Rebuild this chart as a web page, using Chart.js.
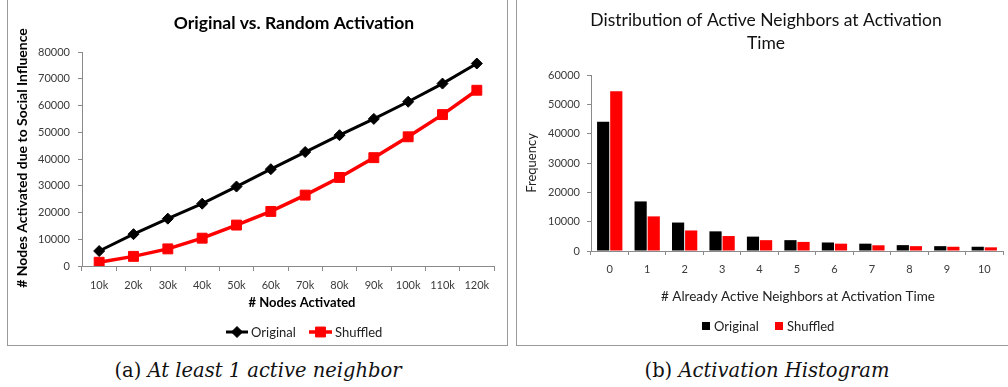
<!DOCTYPE html>
<html>
<head>
<meta charset="utf-8">
<script src="https://cdn.jsdelivr.net/npm/chart.js@4.4.1/dist/chart.umd.min.js"></script>
<style>
  html, body { margin: 0; padding: 0; background: #fff; }
  body { position: relative; width: 1008px; height: 387px; overflow: hidden; }
  .frame { position: absolute; border: 1px solid #9a9a9a; box-sizing: border-box; }
  #frameA { left: 7px; top: -4px; width: 501px; height: 350px; }
  #frameB { left: 516px; top: -4px; width: 510px; height: 350px; }
  .wrap { position: absolute; top: 0; height: 350px; }
  #wrapA { left: 0; width: 510px; }
  #wrapB { left: 510px; width: 498px; }
  .cap { position: absolute; top: 359px; font-family: "DejaVu Serif", serif; font-size: 19.5px; color: #111; white-space: nowrap; transform: translateX(-50%); }
  .cap i { font-style: italic; }
  #capA { left: 258px; }
  #capB { left: 767px; }
</style>
</head>
<body>
<div class="frame" id="frameA"></div>
<div class="frame" id="frameB"></div>
<div class="wrap" id="wrapA"><canvas id="chartA" width="510" height="350"></canvas></div>
<div class="wrap" id="wrapB"><canvas id="chartB" width="498" height="350"></canvas></div>
<div class="cap" id="capA">(a) <i>At least 1 active neighbor</i></div>
<div class="cap" id="capB">(b) <i>Activation Histogram</i></div>

<script>
// ---- data: activation counts ----
const nodeSteps = ['10k', '20k', '30k', '40k', '50k', '60k', '70k', '80k', '90k', '100k', '110k', '120k'];
const socialOriginal = [5600, 11900, 17700, 23300, 29700, 36200, 42600, 48900, 55000, 61400, 68200, 75700];
const socialShuffled = [1400, 3600, 6400, 10400, 15300, 20400, 26500, 33100, 40500, 48300, 56600, 65700];

// ---- data: neighbor histogram ----
const neighborCounts = ['0', '1', '2', '3', '4', '5', '6', '7', '8', '9', '10'];
const histOriginal = [44100, 16900, 9700, 6700, 4900, 3700, 2900, 2500, 2000, 1650, 1450];
const histShuffled = [54500, 11800, 7000, 5100, 3700, 3100, 2500, 1950, 1650, 1450, 1250];

const yTicksA = [0, 10000, 20000, 30000, 40000, 50000, 60000, 70000, 80000];
const yTicksB = [0, 10000, 20000, 30000, 40000, 50000, 60000];

const FONT = 'Lato, "Open Sans", sans-serif';
const AXIS_GREY = '#8a8a8a';
const TICK_TEXT = '#3a3a3a';

// Free text drawn on the canvas (titles, axis titles)
const textPlugin = {
  id: 'freeText',
  afterDraw(chart, args, opts) {
    const ctx = chart.ctx;
    for (const t of opts.items || []) {
      ctx.save();
      ctx.font = t.font;
      ctx.fillStyle = t.color || '#000';
      ctx.textAlign = 'center';
      ctx.textBaseline = 'middle';
      ctx.translate(t.x, t.y);
      if (t.rotate) ctx.rotate(t.rotate);
      ctx.fillText(t.text, 0, 0);
      ctx.restore();
    }
  }
};

// Legend drawn from the datasets' own styles
const legendPlugin = {
  id: 'swatchLegend',
  afterDraw(chart, args, opts) {
    const ctx = chart.ctx;
    const y = opts.y;
    chart.data.datasets.forEach((ds, i) => {
      const it = opts.items[i];
      ctx.save();
      if (opts.kind === 'line') {
        ctx.strokeStyle = ds.borderColor;
        ctx.lineWidth = ds.borderWidth;
        ctx.beginPath();
        ctx.moveTo(it.x, y);
        ctx.lineTo(it.x + it.w, y);
        ctx.stroke();
        ctx.fillStyle = ds.pointBackgroundColor;
        ctx.strokeStyle = ds.pointBorderColor;
        ctx.lineWidth = 1;
        Chart.helpers.drawPoint(ctx, { pointStyle: ds.pointStyle, radius: ds.pointRadius, rotation: 0, borderWidth: 1 }, it.x + it.w / 2, y);
      } else {
        ctx.fillStyle = ds.backgroundColor;
        ctx.fillRect(it.x, y - it.w / 2, it.w, it.w);
      }
      ctx.font = opts.font;
      ctx.fillStyle = '#222';
      ctx.textAlign = 'left';
      ctx.textBaseline = 'middle';
      ctx.fillText(ds.label, it.x + it.w + opts.gap, y + 0.5);
      ctx.restore();
    });
  }
};

function fixedWidth(w) { return function (scale) { scale.width = w; }; }
function fixedHeight(h) { return function (scale) { scale.height = h; }; }

// ---- chart (a): line chart ----
new Chart(document.getElementById('chartA'), {
  type: 'line',
  data: {
    labels: nodeSteps,
    datasets: [
      {
        label: 'Original', data: socialOriginal,
        borderColor: '#000000', backgroundColor: '#000000', borderWidth: 3,
        pointStyle: 'rectRot', pointRadius: 5.5, pointBackgroundColor: '#000000', pointBorderColor: '#000000',
        pointBorderWidth: 1, tension: 0
      },
      {
        label: 'Shuffled', data: socialShuffled,
        borderColor: '#ff0000', backgroundColor: '#ff0000', borderWidth: 3.5,
        pointStyle: 'rect', pointRadius: 7, pointBackgroundColor: '#ff0000', pointBorderColor: '#ff0000',
        pointBorderWidth: 1, tension: 0
      }
    ]
  },
  options: {
    responsive: false, animation: false,
    layout: { padding: { left: 10, right: 16, top: 52, bottom: 60 } },
    plugins: {
      legend: { display: false }, title: { display: false }, tooltip: { enabled: false },
      freeText: {
        items: [
          { text: 'Original vs. Random Activation', x: 294, y: 23, font: 'bold 17.5px ' + FONT },
          { text: '# Nodes Activated', x: 302, y: 303, font: 'bold 13px ' + FONT },
          { text: '# Nodes Activated due to Social Influence', x: 22, y: 158, rotate: -Math.PI / 2, font: 'bold 14px ' + FONT }
        ]
      },
      swatchLegend: {
        kind: 'line', y: 332, gap: 3, font: '13px ' + FONT,
        items: [{ x: 226, w: 22 }, { x: 309, w: 23 }]
      }
    },
    scales: {
      x: {
        type: 'category', offset: true, afterFit: fixedHeight(24),
        border: { display: true, color: AXIS_GREY, width: 1 },
        grid: { display: true, offset: true, drawOnChartArea: false, drawTicks: true, tickLength: 5, color: AXIS_GREY },
        ticks: { color: TICK_TEXT, font: { family: FONT, size: 11 }, padding: 8, maxRotation: 0, autoSkip: false }
      },
      y: {
        min: 0, max: 80000, afterFit: fixedWidth(72),
        afterBuildTicks: s => { s.ticks = yTicksA.map(v => ({ value: v })); },
        border: { display: true, color: AXIS_GREY, width: 1 },
        grid: { display: true, drawOnChartArea: false, drawTicks: true, tickLength: 4, color: AXIS_GREY },
        ticks: { color: TICK_TEXT, font: { family: FONT, size: 11 }, padding: 8, callback: v => String(v) }
      }
    }
  },
  plugins: [textPlugin, legendPlugin]
});

// ---- chart (b): grouped histogram ----
new Chart(document.getElementById('chartB'), {
  type: 'bar',
  data: {
    labels: neighborCounts,
    datasets: [
      { label: 'Original', data: histOriginal, backgroundColor: '#000000', borderWidth: 0 },
      { label: 'Shuffled', data: histShuffled, backgroundColor: '#ff0000', borderWidth: 0 }
    ]
  },
  options: {
    responsive: false, animation: false,
    datasets: { bar: { categoryPercentage: 0.7, barPercentage: 0.93 } },
    layout: { padding: { left: 10, right: 5, top: 75, bottom: 75 } },
    plugins: {
      legend: { display: false }, title: { display: false }, tooltip: { enabled: false },
      freeText: {
        items: [
          { text: 'Distribution of Active Neighbors at Activation', x: 256, y: 20, font: '17.5px ' + FONT, color: '#111' },
          { text: 'Time', x: 256, y: 43, font: '17.5px ' + FONT, color: '#111' },
          { text: '# Already Active Neighbors at Activation Time', x: 288, y: 297, font: '13.5px ' + FONT, color: '#222' },
          { text: 'Frequency', x: 22, y: 163, rotate: -Math.PI / 2, font: '13px ' + FONT, color: '#222' }
        ]
      },
      swatchLegend: {
        kind: 'box', y: 326, gap: 4, font: '13px ' + FONT,
        items: [{ x: 192, w: 8 }, { x: 265, w: 8 }]
      }
    },
    scales: {
      x: {
        afterFit: fixedHeight(24),
        border: { display: true, color: AXIS_GREY, width: 1 },
        grid: { display: true, offset: true, drawOnChartArea: false, drawTicks: true, tickLength: 4, color: AXIS_GREY },
        ticks: { color: TICK_TEXT, font: { family: FONT, size: 11 }, padding: 8, maxRotation: 0, autoSkip: false }
      },
      y: {
        min: 0, max: 60000, afterFit: fixedWidth(71),
        afterBuildTicks: s => { s.ticks = yTicksB.map(v => ({ value: v })); },
        border: { display: true, color: AXIS_GREY, width: 1 },
        grid: { display: true, drawOnChartArea: false, drawTicks: true, tickLength: 4, color: AXIS_GREY },
        ticks: { color: TICK_TEXT, font: { family: FONT, size: 11 }, padding: 7, callback: v => String(v) }
      }
    }
  },
  plugins: [textPlugin, legendPlugin]
});
</script>
</body>
</html>
